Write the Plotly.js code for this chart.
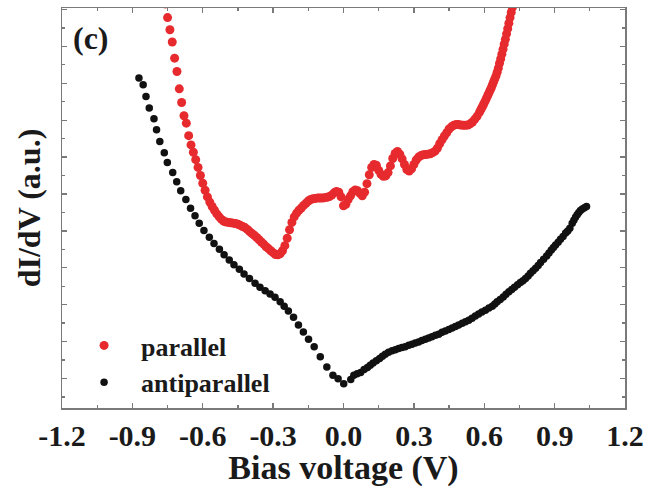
<!DOCTYPE html>
<html>
<head>
<meta charset="utf-8">
<script src="https://cdn.plot.ly/plotly-3.0.1.min.js"></script>
<style>
  html, body { margin: 0; padding: 0; background: #fff; }
  #chart { width: 646px; height: 487px; }
</style>
</head>
<body>
<div id="chart"></div>
<script>
// Differential conductance spectra, parallel vs antiparallel configuration
const parallelV = [
  -0.76, -0.75, -0.74, -0.73, -0.72, -0.71, -0.70, -0.69, -0.68, -0.67,
  -0.66, -0.65, -0.64, -0.63, -0.62, -0.61, -0.60, -0.59, -0.58, -0.57,
  -0.56, -0.55, -0.54, -0.53, -0.52, -0.51, -0.50, -0.49, -0.48, -0.47,
  -0.46, -0.45, -0.44, -0.43, -0.42, -0.41, -0.40, -0.39, -0.38, -0.37,
  -0.36, -0.35, -0.34, -0.33, -0.32, -0.31, -0.30, -0.29, -0.28, -0.27,
  -0.26, -0.25, -0.24, -0.23, -0.22, -0.21, -0.20, -0.19, -0.18, -0.17,
  -0.16, -0.15, -0.14, -0.13, -0.12, -0.11, -0.10, -0.09, -0.08, -0.07,
  -0.06, -0.05, -0.04, -0.03, -0.02, -0.01, 0.00, 0.01, 0.02, 0.03,
  0.04, 0.05, 0.06, 0.07, 0.08, 0.09, 0.10, 0.11, 0.12, 0.13,
  0.14, 0.15, 0.16, 0.17, 0.18, 0.19, 0.20, 0.21, 0.22, 0.23,
  0.24, 0.25, 0.26, 0.27, 0.28, 0.29, 0.30, 0.31, 0.32, 0.33,
  0.34, 0.35, 0.36, 0.37, 0.38, 0.39, 0.40, 0.41, 0.42, 0.43,
  0.44, 0.45, 0.46, 0.47, 0.48, 0.49, 0.50, 0.51, 0.52, 0.53,
  0.54, 0.55, 0.56, 0.57, 0.58, 0.585, 0.59, 0.595, 0.60, 0.605,
  0.61, 0.615, 0.62, 0.625, 0.63, 0.635, 0.64, 0.645, 0.65, 0.655,
  0.66, 0.665, 0.67, 0.675, 0.68, 0.685, 0.69, 0.695, 0.70, 0.705,
  0.71, 0.715, 0.72
];
const parallelG = [
  11.15, 10.78, 10.45, 10.12, 9.68, 9.32, 8.85, 8.48, 8.12, 7.92,
  7.58, 7.33, 7.13, 6.93, 6.72, 6.50, 6.29, 6.10, 5.92, 5.78,
  5.66, 5.56, 5.46, 5.38, 5.31, 5.26, 5.24, 5.23, 5.22, 5.21,
  5.20, 5.18, 5.15, 5.12, 5.09, 5.04, 4.98, 4.93, 4.88, 4.82,
  4.76, 4.70, 4.64, 4.57, 4.52, 4.46, 4.41, 4.36, 4.35, 4.38,
  4.46, 4.60, 4.80, 5.03, 5.23, 5.38, 5.48, 5.56, 5.62, 5.69,
  5.75, 5.81, 5.85, 5.87, 5.88, 5.89, 5.89, 5.89, 5.90, 5.91,
  5.93, 5.97, 6.03, 6.07, 6.05, 5.92, 5.68, 5.72, 5.85, 5.95,
  6.06, 6.11, 6.09, 6.02, 5.95, 6.05, 6.28, 6.52, 6.72, 6.80,
  6.78, 6.64, 6.53, 6.48, 6.49, 6.58, 6.76, 6.96, 7.10, 7.15,
  7.08, 6.95, 6.80, 6.66, 6.62, 6.68, 6.80, 6.92, 7.00, 7.04,
  7.06, 7.07, 7.08, 7.09, 7.12, 7.16, 7.24, 7.36, 7.47, 7.57,
  7.66, 7.76, 7.82, 7.86, 7.88, 7.88, 7.87, 7.86, 7.86, 7.87,
  7.90, 7.95, 8.03, 8.11, 8.22, 8.28, 8.34, 8.40, 8.47, 8.53,
  8.60, 8.67, 8.74, 8.81, 8.88, 8.96, 9.04, 9.12, 9.20, 9.30,
  9.41, 9.54, 9.66, 9.79, 9.92, 10.06, 10.19, 10.34, 10.48, 10.63,
  10.78, 10.92, 11.06
];

const antiparallelV = [
  -0.872, -0.854, -0.842, -0.828, -0.808, -0.797, -0.783, -0.764, -0.751, -0.728,
  -0.711, -0.694, -0.672, -0.652, -0.633, -0.615, -0.595, -0.572, -0.552, -0.529,
  -0.509, -0.487, -0.467, -0.444, -0.424, -0.401, -0.377, -0.356, -0.334, -0.313,
  -0.292, -0.270, -0.253, -0.235, -0.213, -0.192, -0.171, -0.149, -0.125, -0.099,
  -0.071, -0.045, -0.023, 0.001, 0.031, 0.044, 0.058, 0.073, 0.088, 0.102,
  0.114, 0.126, 0.140, 0.154, 0.166, 0.178, 0.192, 0.207, 0.221, 0.235,
  0.249, 0.263, 0.278, 0.292, 0.306, 0.320, 0.334, 0.349, 0.363, 0.377,
  0.392, 0.406, 0.420, 0.434, 0.449, 0.463, 0.477, 0.491, 0.506, 0.520,
  0.534, 0.548, 0.562, 0.576, 0.590, 0.605, 0.620, 0.634, 0.645, 0.655,
  0.668, 0.681, 0.693, 0.705, 0.717, 0.729, 0.742, 0.754, 0.765, 0.776,
  0.787, 0.797, 0.808, 0.819, 0.830, 0.840, 0.853, 0.866, 0.876, 0.886,
  0.895, 0.904, 0.915, 0.925, 0.936, 0.947, 0.956, 0.965, 0.975, 0.982,
  0.989, 0.996, 1.003, 1.010, 1.018, 1.027, 1.036
];
const antiparallelG = [
  9.14, 8.96, 8.64, 8.33, 8.04, 7.74, 7.42, 7.12, 6.85, 6.58,
  6.33, 6.09, 5.85, 5.61, 5.41, 5.21, 5.01, 4.83, 4.66, 4.50,
  4.35, 4.21, 4.08, 3.96, 3.83, 3.71, 3.58, 3.47, 3.38, 3.29,
  3.20, 3.08, 2.96, 2.83, 2.66, 2.45, 2.26, 2.06, 1.86, 1.59,
  1.31, 1.09, 0.99, 0.86, 0.97, 1.09, 1.13, 1.16, 1.24, 1.30,
  1.36, 1.42, 1.48, 1.54, 1.60, 1.66, 1.71, 1.75, 1.78, 1.81,
  1.84, 1.86, 1.90, 1.93, 1.96, 1.99, 2.03, 2.06, 2.10, 2.13,
  2.17, 2.20, 2.25, 2.29, 2.33, 2.37, 2.41, 2.45, 2.50, 2.54,
  2.58, 2.63, 2.69, 2.75, 2.80, 2.85, 2.91, 2.96, 3.02, 3.08,
  3.14, 3.21, 3.28, 3.35, 3.41, 3.47, 3.54, 3.60, 3.65, 3.71,
  3.78, 3.85, 3.92, 3.99, 4.06, 4.14, 4.23, 4.32, 4.40, 4.48,
  4.55, 4.62, 4.69, 4.77, 4.85, 4.94, 5.00, 5.07, 5.21, 5.29,
  5.37, 5.44, 5.50, 5.55, 5.59, 5.63, 5.66
];

const seriesNames = ['parallel', 'antiparallel'];
const xTickVals = [-1.2, -0.9, -0.6, -0.3, 0.0, 0.3, 0.6, 0.9, 1.2];
const xTickText = ['-1.2', '-0.9', '-0.6', '-0.3', '0.0', '0.3', '0.6', '0.9', '1.2'];
const panelLabel = '(c)';

const serif = 'Liberation Serif, Times New Roman, serif';
const frameColor = '#7a7a7a';
const inkColor = '#1a1a1a';

const traces = [
  {
    x: parallelV, y: parallelG, name: seriesNames[0],
    type: 'scatter', mode: 'markers',
    marker: { color: '#e62a2e', size: 9 }
  },
  {
    x: antiparallelV, y: antiparallelG, name: seriesNames[1],
    type: 'scatter', mode: 'markers',
    marker: { color: '#111111', size: 7.5 }
  }
];

const layout = {
  width: 646, height: 487,
  paper_bgcolor: '#ffffff', plot_bgcolor: '#ffffff',
  margin: { l: 62, r: 21, t: 8, b: 79 },
  font: { family: serif, color: inkColor },
  showlegend: true,
  legend: {
    x: 0.009, y: 0.215, xanchor: 'left', yanchor: 'top',
    bgcolor: 'rgba(0,0,0,0)',
    font: { family: serif, size: 26, weight: 'bold', color: inkColor },
    itemwidth: 64
  },
  xaxis: {
    range: [-1.2, 1.2],
    tickmode: 'array', tickvals: xTickVals, ticktext: xTickText,
    ticks: 'inside', ticklen: 5, tickwidth: 1.3, tickcolor: frameColor,
    minor: { dtick: 0.15, tick0: 0, ticks: 'inside', ticklen: 3, tickcolor: frameColor, showgrid: false },
    showline: true, linecolor: frameColor, linewidth: 1.5, mirror: 'ticks',
    showgrid: false, zeroline: false,
    tickfont: { family: serif, size: 30, weight: 'bold', color: inkColor },
    title: { text: 'Bias voltage (V)', font: { family: serif, size: 34, weight: 'bold', color: inkColor }, standoff: 4 }
  },
  yaxis: {
    range: [0.2, 11.04],
    dtick: 1, tick0: 0,
    ticks: 'inside', ticklen: 5, tickwidth: 1.3, tickcolor: frameColor,
    minor: { dtick: 0.5, tick0: 0, ticks: 'inside', ticklen: 3, tickcolor: frameColor, showgrid: false },
    showticklabels: false,
    showline: true, linecolor: frameColor, linewidth: 1.5, mirror: 'ticks',
    showgrid: false, zeroline: false,
    title: { text: 'dI/dV (a.u.)', font: { family: serif, size: 32, weight: 'bold', color: inkColor }, standoff: 10 }
  },
  annotations: [
    {
      text: panelLabel, xref: 'x', yref: 'y', x: -1.077, y: 10.24,
      showarrow: false, xanchor: 'center', yanchor: 'middle',
      font: { family: serif, size: 32, weight: 'bold', color: inkColor }
    }
  ]
};

Plotly.newPlot('chart', traces, layout, { displayModeBar: false, staticPlot: true });
</script>
</body>
</html>
